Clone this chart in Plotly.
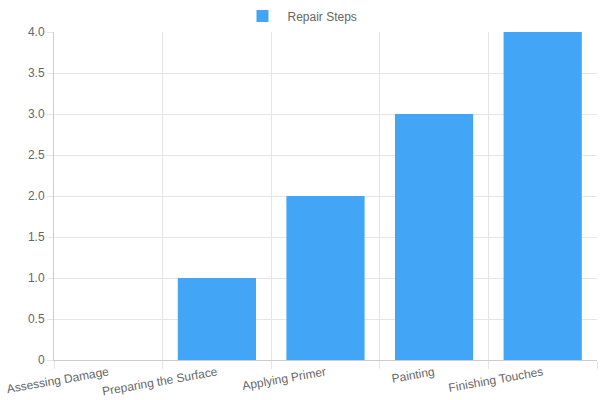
import plotly.graph_objects as go

steps = ['Assessing Damage', 'Preparing the Surface', 'Applying Primer', 'Painting', 'Finishing Touches']
values = [0, 1, 2, 3, 4]
y_ticks = [0, 0.5, 1, 1.5, 2, 2.5, 3, 3.5, 4]
y_labels = ['0', '0.5', '1.0', '1.5', '2.0', '2.5', '3.0', '3.5', '4.0']

fig = go.Figure()
fig.add_trace(go.Bar(x=steps, y=values, name='Repair Steps',
                     marker=dict(color='#42A5F5', line=dict(width=0)),
                     showlegend=True))

fig.update_layout(
    width=600, height=400,
    margin=dict(l=54, r=3, t=32, b=40),
    plot_bgcolor='white', paper_bgcolor='white',
    font=dict(family='Liberation Sans, Arial, sans-serif', size=12, color='#666'),
    bargap=0.28,
    legend=dict(orientation='h', xref='container', yref='container', x=0.5, xanchor='center',
                y=0.96, yanchor='middle', font=dict(size=12, color='#666'), itemwidth=40),
    xaxis=dict(tickson='boundaries', showgrid=True, gridcolor='#e5e5e5', ticks='outside',
               ticklen=8, tickcolor='#e5e5e5', tickangle=-10, showline=True, linecolor='#ccc',
               zeroline=False, automargin=False),
    yaxis=dict(range=[0, 4], tickvals=y_ticks, ticktext=y_labels, showgrid=True,
               gridcolor='#e5e5e5', ticks='outside', ticklen=6, tickcolor='#e5e5e5',
               showline=True, linecolor='#ccc', zeroline=False, automargin=False),
)

# page body has an 8px default margin; drop it so the figure fills the window
fig.write_html('out.html', config={'displayModeBar': False},
               post_script="document.body.style.margin='0';")
